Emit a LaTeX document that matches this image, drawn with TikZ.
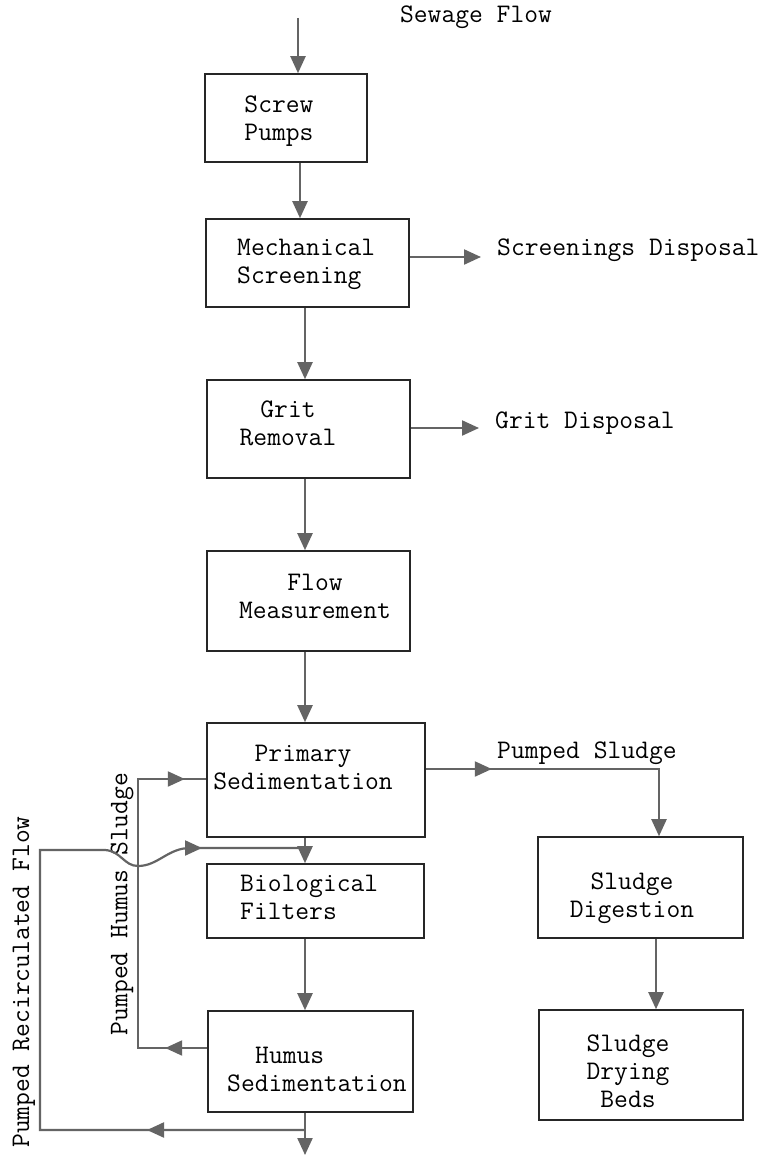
\documentclass[tikz,border=0pt]{standalone}
\usepackage{fontspec}
\usetikzlibrary{arrows.meta,decorations.markings,calc}
\definecolor{flowgray}{RGB}{100,100,100}
\begin{document}
\begin{tikzpicture}[x=1pt,y=-1pt,
  every node/.style={font=\ttfamily\fontsize{26.8}{28}\selectfont,inner sep=0pt,text=black},
  box/.style={draw=black!85,line width=1.6pt,fill=none},
  line/.style={draw=flowgray,color=flowgray,line width=2.2pt,line join=miter},
  flow/.style={line,-{Triangle[length=17pt,width=15pt]}},
  marr/.style={postaction={decorate,decoration={markings,mark=at position #1 with {\arrow{Triangle[length=17pt,width=15pt]}}}}}
]
\useasboundingbox (0,0) rectangle (769,1156);
\fill[white] (0,0) rectangle (769,1156);

% boxes
\node[box,minimum width=162pt,minimum height=88pt] (sp) at (286,118) {};
\node[box,minimum width=203pt,minimum height=88pt] (ms) at (307.5,263) {};
\node[box,minimum width=203pt,minimum height=98pt] (gr) at (308.5,429) {};
\node[box,minimum width=203pt,minimum height=100pt] (fm) at (308.5,601) {};
\node[box,minimum width=218pt,minimum height=114pt] (pr) at (316,780) {};
\node[box,minimum width=217pt,minimum height=74pt] (bf) at (315.5,901) {};
\node[box,minimum width=205pt,minimum height=101pt] (hs) at (310.5,1061.5) {};
\node[box,minimum width=205pt,minimum height=101pt] (sd) at (640.5,887.5) {};
\node[box,minimum width=204pt,minimum height=110pt] (db) at (641,1065) {};

% box texts
\node[align=center] (tsp) at (279,121) {Screw\\Pumps};
\node[align=left,anchor=west] (tms) at (237,264) {Mechanical\\Screening};
\node[align=center] (tgr) at (288,423) {Grit\\Removal};
\node[align=center] (tfm) at (315,596) {Flow\\Measurement};
\node[align=center] (tpr) at (303,767) {Primary\\Sedimentation};
\node[align=left,anchor=west] (tbf) at (240,897) {Biological\\Filters};
\node[align=left,anchor=west] (ths) at (227,1069) {\hspace*{28pt}Humus\\Sedimentation};
\node[align=center] (tsd) at (632,898) {Sludge\\Digestion};
\node[align=center] (tdb) at (628,1071) {Sludge\\Drying\\Beds};

% free labels
\node (lsf) at (476,17) {Sewage Flow};
\node[anchor=west] (lsc) at (497,250) {Screenings Disposal};
\node[anchor=west] (lgd) at (495,423) {Grit Disposal};
\node[anchor=west] (lps) at (497,753) {Pumped Sludge};
\node[rotate=90] (lhs) at (122,904) {Pumped Humus Sludge};
\node[rotate=90] (lrf) at (24,982) {Pumped Recirculated Flow};

% coordinates
\coordinate (colA) at (300,0);
\coordinate (col) at (305,0);
\coordinate (scol) at (659,0);
\coordinate (dcol) at (656,0);
\coordinate (in) at (298,18);
\coordinate (sce) at (481,257);
\coordinate (gre) at (479,428);
\coordinate (psy) at (0,769);
\coordinate (hb) at (138,1048);
\coordinate (ht) at (138,779);
\coordinate (jn) at (305,848);
\coordinate (rj) at (305,1130);
\coordinate (out) at (305,1155);

% main flow
\draw[flow] (in) -- (sp.north -| in);
\draw[flow] (sp.south -| colA) -- (ms.north -| colA);
\draw[flow] (ms.east |- sce) -- (sce);
\draw[flow] (ms.south -| col) -- (gr.north -| col);
\draw[flow] (gr.east |- gre) -- (gre);
\draw[flow] (gr.south -| col) -- (fm.north -| col);
\draw[flow] (fm.south -| col) -- (pr.north -| col);
\draw[flow] (pr.south -| col) -- (bf.north -| col);
\draw[flow] (bf.south -| col) -- (hs.north -| col);
\draw[flow] (hs.south -| col) -- (out);

% sludge line
\draw[flow,marr=66pt] (pr.east |- psy) -- (scol |- psy) -- (sd.north -| scol);
\draw[flow] (sd.south -| dcol) -- (db.north -| dcol);

% humus sludge return
\draw[line,marr=42pt,marr=385pt] (hs.west |- hb) -- (hb) -- (ht) -- (pr.west |- ht);

% recirculated flow
\draw[line,marr=158pt] (rj) -- (40,1130) -- (40,850) -- (105,850)
  .. controls (121,851) and (124,866) .. (138,866)
  .. controls (158,866) and (168,848) .. (190,848) -- (jn);
\draw[line,marr=12pt] (190,848) -- (jn);
\end{tikzpicture}
\end{document}
